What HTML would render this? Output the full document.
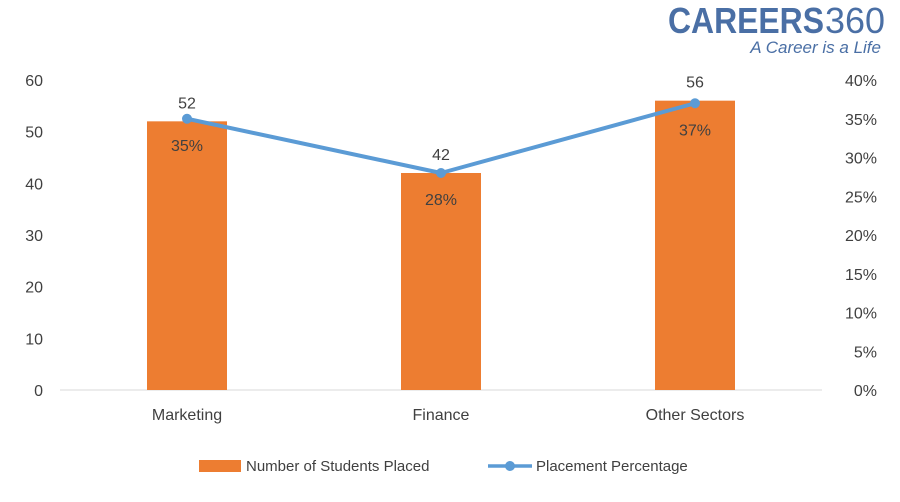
<!DOCTYPE html>
<html><head><meta charset="utf-8"><style>
body{margin:0;background:#fff;}
svg text{font-family:"Liberation Sans",Calibri,sans-serif;}
</style></head><body>
<svg width="900" height="497" viewBox="0 0 900 497" xmlns="http://www.w3.org/2000/svg">
<g>
<text x="668" y="33" font-size="36" font-weight="bold" fill="#4a6fa5" textLength="156" lengthAdjust="spacingAndGlyphs">CAREERS</text>
<text x="825" y="33" font-size="36" fill="#4a6fa5" textLength="60" lengthAdjust="spacingAndGlyphs">360</text>
<text x="881" y="53" font-size="17" font-style="italic" fill="#4a6fa5" text-anchor="end">A Career is a Life</text>
</g>
<g id="axes"></g>
<g id="bars"></g>
<g id="line"></g>
<g>
<rect x="199" y="460" width="42" height="12" fill="#ed7d31"/>
<text x="246" y="471" font-size="15" fill="#404040">Number of Students Placed</text>
<line x1="488" y1="466" x2="532" y2="466" stroke="#5b9bd5" stroke-width="3.5"/>
<circle cx="510" cy="466" r="5" fill="#5b9bd5"/>
<text x="536" y="471" font-size="15" fill="#404040">Placement Percentage</text>
</g>
</svg>
<script>
const categories=["Marketing","Finance","Other Sectors"];
const studentsPlaced=[52,42,56];
const placementPct=[35,28,37];
const leftTicks=[0,10,20,30,40,50,60];
const rightTicks=[0,5,10,15,20,25,30,35,40];
const NS="http://www.w3.org/2000/svg";
const plotL=60,plotR=822,plotTop=80,plotBot=390;
const yL=v=>plotBot-v/60*(plotBot-plotTop);
const yR=v=>plotBot-v/40*(plotBot-plotTop);
const band=(plotR-plotL)/categories.length;
const xC=i=>plotL+band*(i+0.5);
function mk(tag,attrs,parent,text){const e=document.createElementNS(NS,tag);for(const k in attrs)e.setAttribute(k,attrs[k]);if(text!==undefined)e.textContent=text;parent.appendChild(e);return e;}
const axes=document.getElementById('axes'),bars=document.getElementById('bars'),line=document.getElementById('line');
let bl=mk('line',{x1:plotL,x2:plotR,y1:plotBot,y2:plotBot,stroke:'#d9d9d9','stroke-width':1},axes);


leftTicks.forEach(t=>{const e=mk('text',{x:43,y:yL(t)+6,'font-size':16,fill:'#404040','text-anchor':'end'},axes,String(t));

});
rightTicks.forEach(t=>{const e=mk('text',{x:877,y:yR(t)+6,'font-size':16,fill:'#404040','text-anchor':'end'},axes,t+'%');

});
categories.forEach((c,i)=>{const e=mk('text',{x:xC(i),y:420,'font-size':16,fill:'#404040','text-anchor':'middle'},axes,c);

});
const bw=80;
studentsPlaced.forEach((v,i)=>{const r=mk('rect',{x:xC(i)-bw/2,y:yL(v),width:bw,height:plotBot-yL(v),fill:'#ed7d31'},bars);


const t=mk('text',{x:xC(i),y:yL(v)-13,'font-size':16,fill:'#404040','text-anchor':'middle'},bars,String(v));

});
const pts=placementPct.map((v,i)=>xC(i)+','+yR(v)).join(' ');
const pl=mk('polyline',{points:pts,fill:'none',stroke:'#5b9bd5','stroke-width':4,'stroke-linejoin':'round'},line);


placementPct.forEach((v,i)=>{const c=mk('circle',{cx:xC(i),cy:yR(v),r:5,fill:'#5b9bd5'},line);


const t=mk('text',{x:xC(i),y:yR(v)+32,'font-size':16,fill:'#404040','text-anchor':'middle'},line,v+'%');

});
</script>
</body></html>
